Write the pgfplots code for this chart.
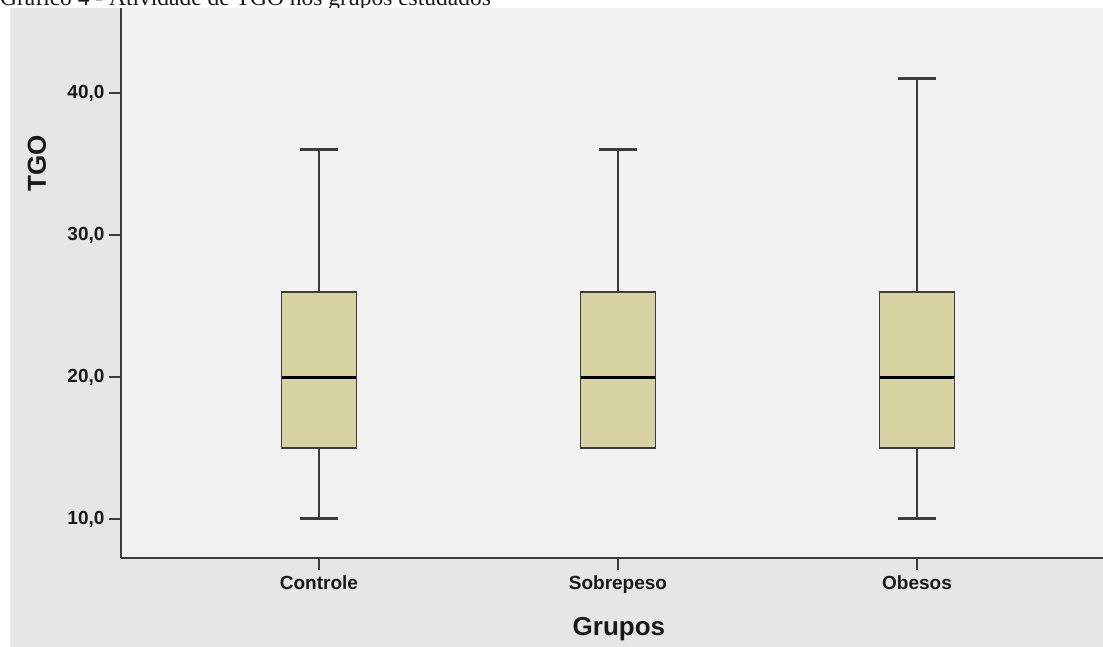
\documentclass[border=0pt]{standalone}
\usepackage{pgfplots}
\pgfplotsset{compat=1.18}
\usepackage{fontspec}
\setmainfont{Liberation Sans}
\newfontfamily\titlefont{Liberation Serif}
\definecolor{outergray}{RGB}{230,230,230}
\definecolor{innergray}{RGB}{242,242,242}
\definecolor{boxfill}{RGB}{215,211,163}
\definecolor{edge}{RGB}{60,60,60}
\definecolor{txt}{RGB}{25,25,25}
% group: position, lower whisker, Q1, median, Q3, upper whisker
% Controle:  0, 10, 15, 20, 26, 36
% Sobrepeso: 1, 15, 15, 20, 26, 36
% Obesos:    2, 10, 15, 20, 26, 41
\begin{document}
\begin{tikzpicture}
\useasboundingbox (0,0) rectangle (1103pt,647pt);
\clip (0,0) rectangle (1103pt,647pt);
\fill[white] (0,0) rectangle (1103pt,647pt);
\node[anchor=base west, inner sep=0pt, font=\titlefont\fontsize{23.5}{26}\selectfont, text=txt] at (0pt,641pt) {Gráfico 4 - Atividade de TGO nos grupos estudados};
\fill[outergray] (10pt,0) rectangle (1103pt,639pt);
\begin{axis}[
  at={(121pt,89pt)}, anchor=south west,
  scale only axis, width=982pt, height=550pt,
  xmin=-0.662, xmax=2.622, ymin=7.25, ymax=46,
  axis x line*=bottom, axis y line*=left,
  axis line style={draw=edge, line width=2pt, -},
  axis background/.style={fill=innergray},
  xtick={0,1,2}, xticklabels={Controle,Sobrepeso,Obesos},
  ytick={10,20,30,40}, yticklabels={{10,0},{20,0},{30,0},{40,0}},
  tick align=outside, major tick length=12pt,
  every tick/.style={draw=edge, line width=1.5pt},
  tick label style={font=\bfseries\fontsize{19}{22}\selectfont, text=txt},
  yticklabel style={xshift=-1pt},
  xticklabel style={yshift=-2pt},
  xlabel={Grupos}, ylabel={TGO},
  label style={font=\bfseries\fontsize{26}{30}\selectfont, text=txt},
  xlabel style={at={(axis description cs:0.507,-0.1418)}, anchor=base},
  ylabel style={at={(axis description cs:-0.0855,0.718)}, anchor=center},
  clip=false,
]
% whiskers
\addplot[draw=edge, line width=2pt, mark=none] coordinates {(0,10) (0,15)};
\addplot[draw=edge, line width=2pt, mark=none] coordinates {(0,26) (0,36)};
\addplot[draw=edge, line width=2pt, mark=none] coordinates {(1,26) (1,36)};
\addplot[draw=edge, line width=2pt, mark=none] coordinates {(2,10) (2,15)};
\addplot[draw=edge, line width=2pt, mark=none] coordinates {(2,26) (2,41)};
% caps
\addplot[draw=edge, line width=3pt, mark=none] coordinates {(-0.0635,10) (0.0635,10)};
\addplot[draw=edge, line width=3pt, mark=none] coordinates {(-0.0635,36) (0.0635,36)};
\addplot[draw=edge, line width=3pt, mark=none] coordinates {(0.9365,36) (1.0635,36)};
\addplot[draw=edge, line width=3pt, mark=none] coordinates {(1.9365,10) (2.0635,10)};
\addplot[draw=edge, line width=3pt, mark=none] coordinates {(1.9365,41) (2.0635,41)};
% boxes
\addplot[draw=edge, fill=boxfill, line width=1.5pt, mark=none] coordinates {(-0.125,15) (0.125,15) (0.125,26) (-0.125,26)} --cycle;
\addplot[draw=edge, fill=boxfill, line width=1.5pt, mark=none] coordinates {(0.875,15) (1.125,15) (1.125,26) (0.875,26)} --cycle;
\addplot[draw=edge, fill=boxfill, line width=1.5pt, mark=none] coordinates {(1.875,15) (2.125,15) (2.125,26) (1.875,26)} --cycle;
% medians
\addplot[draw=black, line width=3pt, mark=none] coordinates {(-0.125,20) (0.125,20)};
\addplot[draw=black, line width=3pt, mark=none] coordinates {(0.875,20) (1.125,20)};
\addplot[draw=black, line width=3pt, mark=none] coordinates {(1.875,20) (2.125,20)};
\end{axis}
\end{tikzpicture}
\end{document}
